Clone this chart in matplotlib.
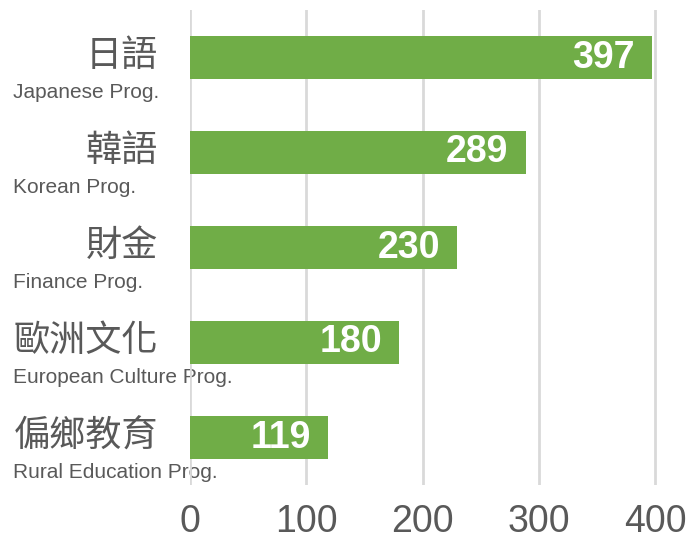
import matplotlib
matplotlib.use("Agg")
import matplotlib.pyplot as plt
import matplotlib.transforms as mtransforms

# data
programs_zh = ["日語", "韓語", "財金", "歐洲文化", "偏鄉教育"]
programs_en = ["Japanese Prog.", "Korean Prog.", "Finance Prog.",
               "European Culture Prog.", "Rural Education Prog."]
counts = [397, 289, 230, 180, 119]
xticks = [0, 100, 200, 300, 400]

bar_color = "#70AD47"
text_gray = "#595959"
grid_gray = "#D9D9D9"

plt.rcParams["font.family"] = ["Liberation Sans", "DejaVu Sans"]

fig = plt.figure(figsize=(6.9, 5.44), dpi=100)
ax = fig.add_axes([190 / 690, 1 - 485 / 544, 500 / 690, 475 / 544])

ypos = list(range(len(counts)))
ax.barh(ypos, counts, height=0.45, color=bar_color, zorder=2)
ax.set_ylim(len(counts) - 0.5, -0.5)
ax.set_xlim(0, 430)

# vertical gridlines
ax.set_xticks(xticks)
ax.xaxis.grid(True, color=grid_gray, linewidth=2, zorder=0)
ax.set_axisbelow(True)
ax.set_yticks([])
for s in ax.spines.values():
    s.set_visible(False)
ax.tick_params(axis="x", length=0, pad=14, labelsize=27, labelcolor=text_gray)

# value labels inside bar ends
for y, v in zip(ypos, counts):
    ax.text(v - 15, y, str(v), ha="right", va="center", color="white",
            fontsize=27, fontweight="bold", zorder=3)

# category labels (Chinese + English); English sits under the gridlines
trans = mtransforms.blended_transform_factory(fig.transFigure, ax.transData)
for y, zh, en in zip(ypos, programs_zh, programs_en):
    ax.text(158 / 690, y - 0.02, zh, transform=trans, ha="right", va="center",
            fontsize=26, color=text_gray, fontweight="light",
            family=["Noto Sans CJK TC", "DejaVu Sans"])
    ax.text(13 / 690, y + 0.37, en, transform=trans, ha="left", va="center",
            fontsize=15, color=text_gray, zorder=0.1)

fig.savefig("out.png", dpi=100)
